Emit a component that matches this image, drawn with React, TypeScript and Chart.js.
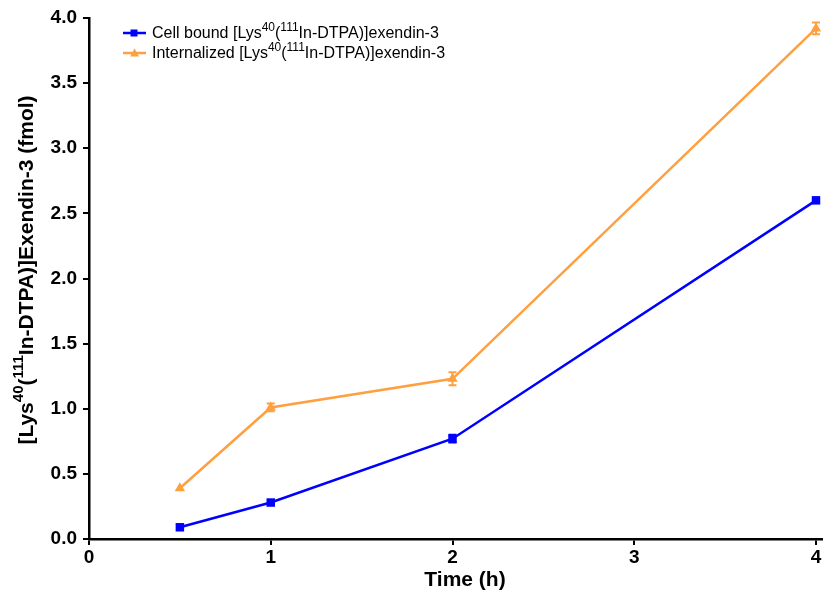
import React, { useEffect, useRef } from "react";
import { Chart, registerables } from "chart.js";

Chart.register(...registerables);

const timePoints = [0.5, 1, 2, 4];
const cellBound = [0.09, 0.28, 0.77, 2.6];
const cellBoundErr = [0, 0, 0.03, 0];
const internalized = [0.39, 1.01, 1.23, 3.92];
const internalizedErr = [0, 0.03, 0.05, 0.045];
const xTicks = [0, 1, 2, 3, 4];
const yTicks = [0, 0.5, 1, 1.5, 2, 2.5, 3, 3.5, 4];

type Part = { t: string; sup?: boolean };
const legendCell: Part[] = [
  { t: "Cell bound [Lys" }, { t: "40", sup: true }, { t: "(" }, { t: "111", sup: true }, { t: "In-DTPA)]exendin-3" },
];
const legendInt: Part[] = [
  { t: "Internalized [Lys" }, { t: "40", sup: true }, { t: "(" }, { t: "111", sup: true }, { t: "In-DTPA)]exendin-3" },
];
const yTitle: Part[] = [
  { t: "[Lys" }, { t: "40", sup: true }, { t: "(" }, { t: "111", sup: true }, { t: "In-DTPA)]Exendin-3 (fmol)" },
];
const xTitle: Part[] = [{ t: "Time (h)" }];

const BLUE = "#0000ff";
const ORANGE = "#ffa040";
const FONT = "'Liberation Sans', Arial, sans-serif";

function drawParts(ctx: CanvasRenderingContext2D, parts: Part[], x: number, y: number, size: number, bold: boolean, align: "left" | "center") {
  const w = (p: Part) => {
    ctx.font = `${bold ? "bold " : ""}${p.sup ? Math.round(size * 0.72) : size}px ${FONT}`;
    return ctx.measureText(p.t).width;
  };
  let total = 0;
  parts.forEach((p) => (total += w(p)));
  let cx = align === "center" ? x - total / 2 : x;
  ctx.textBaseline = "middle";
  ctx.textAlign = "left";
  parts.forEach((p) => {
    const ww = w(p);
    ctx.fillText(p.t, cx, p.sup ? y - size * 0.4 : y);
    cx += ww;
  });
}

export default function App() {
  const ref = useRef<HTMLCanvasElement>(null);
  useEffect(() => {
    document.body.style.margin = "0";
    const errs = [cellBoundErr, internalizedErr];
    const errorBars = {
      id: "errorBars",
      afterDatasetsDraw(chart: any) {
        const ctx = chart.ctx;
        const ys = chart.scales.y;
        chart.data.datasets.forEach((ds: any, i: number) => {
          const meta = chart.getDatasetMeta(i);
          ctx.save();
          ctx.strokeStyle = ds.borderColor;
          ctx.lineWidth = 2;
          meta.data.forEach((pt: any, j: number) => {
            const v = ds.data[j].y;
            const e = errs[i][j];
            if (!e) return;
            const yh = ys.getPixelForValue(v + e);
            const yl = ys.getPixelForValue(v - e);
            ctx.beginPath();
            ctx.moveTo(pt.x, yh);
            ctx.lineTo(pt.x, yl);
            ctx.moveTo(pt.x - 4, yh);
            ctx.lineTo(pt.x + 4, yh);
            ctx.moveTo(pt.x - 4, yl);
            ctx.lineTo(pt.x + 4, yl);
            ctx.stroke();
          });
          ctx.restore();
        });
      },
    };
    const customText = {
      id: "customText",
      afterDraw(chart: any) {
        const ctx = chart.ctx;
        ctx.save();
        ctx.fillStyle = "#000";
        const items = [
          { parts: legendCell, color: BLUE, style: "rect" },
          { parts: legendInt, color: ORANGE, style: "tri" },
        ];
        items.forEach((it, k) => {
          const y = 33 + k * 20;
          ctx.strokeStyle = it.color;
          ctx.fillStyle = it.color;
          ctx.lineWidth = 2.5;
          ctx.beginPath();
          ctx.moveTo(123, y);
          ctx.lineTo(146, y);
          ctx.stroke();
          ctx.beginPath();
          if (it.style === "rect") {
            ctx.rect(130.5, y - 3.5, 7, 7);
          } else {
            ctx.moveTo(134.5, y - 4.5);
            ctx.lineTo(139, y + 3.5);
            ctx.lineTo(130, y + 3.5);
            ctx.closePath();
          }
          ctx.fill();
          ctx.fillStyle = "#000";
          drawParts(ctx, it.parts, 152, y + 1, 16, false, "left");
        });
        drawParts(ctx, xTitle, 465, 580, 21, true, "center");
        ctx.translate(27, 270);
        ctx.rotate(-Math.PI / 2);
        drawParts(ctx, yTitle, 0, 0, 21, true, "center");
        ctx.restore();
      },
    };
    const chart = new Chart(ref.current!, {
      type: "line",
      data: {
        datasets: [
          {
            label: "Cell bound",
            data: timePoints.map((t, i) => ({ x: t, y: cellBound[i] })),
            borderColor: BLUE,
            backgroundColor: BLUE,
            borderWidth: 2.5,
            pointStyle: "rect",
            pointRadius: 6,
            pointBorderWidth: 0,
          },
          {
            label: "Internalized",
            data: timePoints.map((t, i) => ({ x: t, y: internalized[i] })),
            borderColor: ORANGE,
            backgroundColor: ORANGE,
            borderWidth: 2.5,
            pointStyle: "triangle",
            pointRadius: 6,
            pointBorderWidth: 0,
          },
        ],
      },
      options: {
        responsive: false,
        animation: false,
        layout: { padding: { top: 18, right: 0, left: 0, bottom: 0 } },
        plugins: { legend: { display: false }, tooltip: { enabled: false } },
        scales: {
          x: {
            type: "linear",
            min: 0,
            max: 4.033,
            afterBuildTicks: (s: any) => {
              s.ticks = xTicks.map((v) => ({ value: v }));
            },
            afterFit: (s: any) => {
              s.height = 55;
            },
            ticks: {
              color: "#000",
              font: { family: FONT, size: 19, weight: "bold" },
              padding: 1,
              maxRotation: 0,
            },
            grid: { drawOnChartArea: false, drawTicks: true, tickLength: 6, color: "#000", lineWidth: 2 },
            border: { color: "#000", width: 2.5 },
          },
          y: {
            min: 0,
            max: 4,
            afterBuildTicks: (s: any) => {
              s.ticks = yTicks.map((v) => ({ value: v }));
            },
            afterFit: (s: any) => {
              s.width = 89;
            },
            ticks: {
              color: "#000",
              font: { family: FONT, size: 19, weight: "bold" },
              padding: 6,
              callback: (v: any) => Number(v).toFixed(1),
            },
            grid: { drawOnChartArea: false, drawTicks: true, tickLength: 6, color: "#000", lineWidth: 2 },
            border: { color: "#000", width: 2.5 },
          },
        },
      } as any,
      plugins: [errorBars, customText],
    });
    return () => chart.destroy();
  }, []);
  return <canvas ref={ref} width={828} height={594} style={{ display: "block" }} />;
}
